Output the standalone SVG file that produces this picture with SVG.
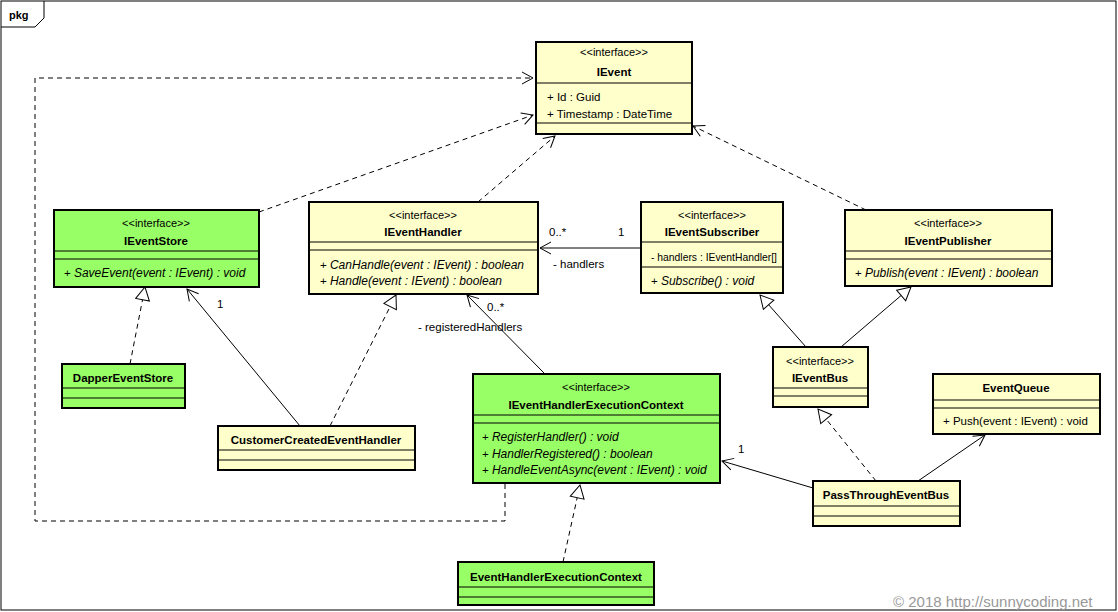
<svg xmlns="http://www.w3.org/2000/svg" width="1118" height="612" viewBox="0 0 1118 612">
<style>
text{font-family:"Liberation Sans",Arial,sans-serif;font-size:11.5px;fill:#000}
.st{text-anchor:middle;font-size:11px}
.nm{text-anchor:middle;font-weight:bold}
.it{font-style:italic;font-size:12px}
.y{fill:#FFFFCC;stroke:#000;stroke-width:2}
.g{fill:#99FF66;stroke:#000;stroke-width:2}
.sep{stroke:#000;stroke-width:1}
.c{fill:none;stroke:#000;stroke-width:1}
.d{fill:none;stroke:#000;stroke-width:1;stroke-dasharray:5,4}
</style>
<defs>
<marker id="open" markerWidth="14" markerHeight="14" refX="12" refY="7" orient="auto" markerUnits="userSpaceOnUse"><path d="M1,1 L12,7 L1,13" fill="none" stroke="#000"/></marker>
<marker id="tri" markerWidth="16" markerHeight="16" refX="14" refY="8" orient="auto" markerUnits="userSpaceOnUse"><path d="M1,1 L14,8 L1,15 Z" fill="#fff" stroke="#000"/></marker>
</defs>
<rect x="0" y="0" width="1118" height="612" fill="#fff"/>
<rect x="1" y="1" width="1115" height="609" fill="none" stroke="#000"/>
<path d="M1,27 H35 L44,18 V1" fill="none" stroke="#000"/>
<text x="9" y="19" style="font-weight:bold;font-size:11px">pkg</text>

<g id="connectors">
<path class="d" d="M259,212 L533,115" marker-end="url(#open)"/>
<path class="d" d="M478,202 L555,136" marker-end="url(#open)"/>
<path class="d" d="M866,210 L693,126" marker-end="url(#open)"/>
<path class="d" d="M505,484 V521 H35 V78 H533" marker-end="url(#open)"/>
<path class="c" d="M641,248 H540" marker-end="url(#open)"/>
<text x="549" y="236">0..*</text><text x="618" y="236">1</text><text x="553" y="268">- handlers</text>
<path class="d" d="M130,364 L145,287" marker-end="url(#tri)"/>
<path class="c" d="M300,426 L187,289" marker-end="url(#open)"/>
<text x="217" y="308">1</text>
<path class="d" d="M330,426 L396,295" marker-end="url(#tri)"/>
<path class="c" d="M545,374 L467,295" marker-end="url(#open)"/>
<text x="487" y="311">0..*</text><text x="418" y="331">- registeredHandlers</text>
<path class="c" d="M806,347 L760,295" marker-end="url(#tri)"/>
<path class="c" d="M841,347 L911,287" marker-end="url(#tri)"/>
<path class="d" d="M876,481 L818,409" marker-end="url(#tri)"/>
<path class="c" d="M918,481 L985,435" marker-end="url(#open)"/>
<path class="c" d="M813,488 L722,461" marker-end="url(#open)"/>
<text x="738" y="453">1</text>
<path class="d" d="M563,562 L580,485" marker-end="url(#tri)"/>
</g>

<g id="IEvent">
<rect class="y" x="536" y="42" width="156" height="92"/>
<text class="st" x="614" y="56">&lt;&lt;interface&gt;&gt;</text>
<text class="nm" x="614" y="76">IEvent</text>
<line class="sep" x1="536" y1="83" x2="692" y2="83"/>
<text x="547" y="101">+ Id : Guid</text>
<text x="547" y="118">+ Timestamp : DateTime</text>
<line class="sep" x1="536" y1="123" x2="692" y2="123"/>
</g>
<g id="IEventStore">
<rect class="g" x="54" y="210" width="205" height="77"/>
<text class="st" x="156" y="227">&lt;&lt;interface&gt;&gt;</text>
<text class="nm" x="156" y="245">IEventStore</text>
<line class="sep" x1="54" y1="251" x2="259" y2="251"/>
<line class="sep" x1="54" y1="259" x2="259" y2="259"/>
<text x="64" y="277">+ <tspan class="it">SaveEvent(event : IEvent) : void</tspan></text>
</g>
<g id="IEventHandler">
<rect class="y" x="309" y="202" width="229" height="92"/>
<text class="st" x="423" y="219">&lt;&lt;interface&gt;&gt;</text>
<text class="nm" x="423" y="236">IEventHandler</text>
<line class="sep" x1="309" y1="242" x2="538" y2="242"/>
<line class="sep" x1="309" y1="250" x2="538" y2="250"/>
<text x="320" y="269">+ <tspan class="it">CanHandle(event : IEvent) : boolean</tspan></text>
<text x="320" y="285">+ <tspan class="it">Handle(event : IEvent) : boolean</tspan></text>
</g>
<g id="IEventSubscriber">
<rect class="y" x="641" y="202" width="142" height="91"/>
<text class="st" x="712" y="219">&lt;&lt;interface&gt;&gt;</text>
<text class="nm" x="712" y="236">IEventSubscriber</text>
<line class="sep" x1="641" y1="242" x2="783" y2="242"/>
<text x="651" y="261" textLength="126" lengthAdjust="spacingAndGlyphs">- handlers : IEventHandler[]</text>
<line class="sep" x1="641" y1="267" x2="783" y2="267"/>
<text x="651" y="285">+ <tspan class="it">Subscribe() : void</tspan></text>
</g>
<g id="IEventPublisher">
<rect class="y" x="845" y="210" width="207" height="76"/>
<text class="st" x="948" y="227">&lt;&lt;interface&gt;&gt;</text>
<text class="nm" x="948" y="245">IEventPublisher</text>
<line class="sep" x1="845" y1="251" x2="1052" y2="251"/>
<line class="sep" x1="845" y1="259" x2="1052" y2="259"/>
<text x="855" y="277">+ <tspan class="it">Publish(event : IEvent) : boolean</tspan></text>
</g>
<g id="IEventBus">
<rect class="y" x="773" y="347" width="95" height="60"/>
<text class="st" x="820" y="365">&lt;&lt;interface&gt;&gt;</text>
<text class="nm" x="820" y="382">IEventBus</text>
<line class="sep" x1="773" y1="388" x2="868" y2="388"/>
<line class="sep" x1="773" y1="396" x2="868" y2="396"/>
</g>
<g id="EventQueue">
<rect class="y" x="933" y="374" width="167" height="60"/>
<text class="nm" x="1016" y="392">EventQueue</text>
<line class="sep" x1="933" y1="400" x2="1100" y2="400"/>
<line class="sep" x1="933" y1="408" x2="1100" y2="408"/>
<text x="943" y="425">+ Push(event : IEvent) : void</text>
</g>
<g id="DapperEventStore">
<rect class="g" x="62" y="364" width="123" height="44"/>
<text class="nm" x="123" y="382">DapperEventStore</text>
<line class="sep" x1="62" y1="388" x2="185" y2="388"/>
<line class="sep" x1="62" y1="398" x2="185" y2="398"/>
</g>
<g id="CustomerCreatedEventHandler">
<rect class="y" x="218" y="426" width="197" height="44"/>
<text class="nm" x="316" y="444">CustomerCreatedEventHandler</text>
<line class="sep" x1="218" y1="450" x2="415" y2="450"/>
<line class="sep" x1="218" y1="460" x2="415" y2="460"/>
</g>
<g id="IEventHandlerExecutionContext">
<rect class="g" x="473" y="374" width="247" height="109"/>
<text class="st" x="596" y="391">&lt;&lt;interface&gt;&gt;</text>
<text class="nm" x="596" y="409">IEventHandlerExecutionContext</text>
<line class="sep" x1="473" y1="415" x2="720" y2="415"/>
<line class="sep" x1="473" y1="423" x2="720" y2="423"/>
<text x="482" y="441">+ <tspan class="it">RegisterHandler() : void</tspan></text>
<text x="482" y="458">+ <tspan class="it">HandlerRegistered() : boolean</tspan></text>
<text x="482" y="474">+ <tspan class="it">HandleEventAsync(event : IEvent) : void</tspan></text>
</g>
<g id="PassThroughEventBus">
<rect class="y" x="813" y="481" width="147" height="45"/>
<text class="nm" x="886" y="499">PassThroughEventBus</text>
<line class="sep" x1="813" y1="506" x2="960" y2="506"/>
<line class="sep" x1="813" y1="516" x2="960" y2="516"/>
</g>
<g id="EventHandlerExecutionContext">
<rect class="g" x="458" y="562" width="196" height="43"/>
<text class="nm" x="556" y="581">EventHandlerExecutionContext</text>
<line class="sep" x1="458" y1="587" x2="654" y2="587"/>
<line class="sep" x1="458" y1="597" x2="654" y2="597"/>
</g>
<text x="893" y="607" style="font-size:15px;fill:#999">© 2018 http://sunnycoding.net</text>
</svg>
